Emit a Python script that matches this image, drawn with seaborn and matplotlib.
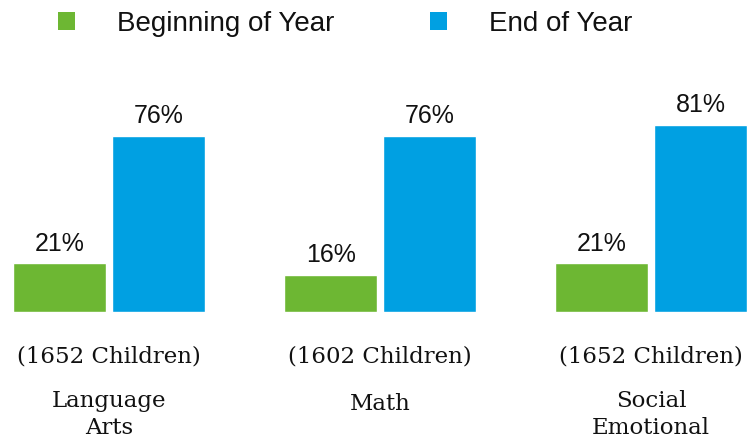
import pandas as pd
import matplotlib
matplotlib.use("Agg")
from matplotlib import pyplot as plt
from matplotlib.patches import Patch
import seaborn as sns

# data
subjects = ['Language\nArts', 'Math', 'Social\nEmotional']
children = [1652, 1602, 1652]
periods = ['Beginning of Year', 'End of Year']
beginning = [21, 16, 21]
end = [76, 76, 81]

colors = {
    'Beginning of Year': '#6db733',  # green
    'End of Year': '#00a0e2',        # blue
}

df = pd.DataFrame({
    'subject': subjects * 2,
    'period': [periods[0]] * 3 + [periods[1]] * 3,
    'pct': beginning + end,
})

sns.set_style('white')
plt.rcParams['font.family'] = ['Liberation Sans', 'DejaVu Sans']
plt.rcParams['text.color'] = '#111111'

fig = plt.figure(figsize=(7.5, 4.38), dpi=100)
ax = fig.add_axes([0, 126.3 / 438, 1, 311.7 / 438])

sns.barplot(data=df, x='subject', y='pct', hue='period', order=subjects,
            hue_order=periods, palette=colors, width=0.728, gap=0.058,
            saturation=1, legend=False, ax=ax)

ax.set_xlim(-0.402, 2.365)
ax.set_ylim(0, 134.9)
ax.axis('off')

for cont in ax.containers:
    ax.bar_label(cont, fmt='%g%%', padding=5.5, fontsize=18, color='#111111')

# sample size and subject names under each group
for i, subj in enumerate(subjects):
    ax.annotate(f'({children[i]} Children)', xy=(i, 0), xytext=(0, -45),
                textcoords='offset pixels', ha='center', va='center',
                fontsize=16.5, family='DejaVu Serif', color='#111111')
    ax.annotate(subj, xy=(i, 0), xytext=(0, -103 if '\n' in subj else -92),
                textcoords='offset pixels', ha='center', va='center',
                fontsize=16.5, family='DejaVu Serif', color='#111111',
                linespacing=1.3, multialignment='center')

handles = [Patch(facecolor=colors[p], edgecolor='none', label=p) for p in periods]
ax.legend(handles=handles, loc='upper left', bbox_to_anchor=(58 / 750, 1 - 11 / 438),
          bbox_transform=fig.transFigure, ncol=2, frameon=False, borderpad=0,
          borderaxespad=0, handlelength=0.62, handleheight=0.62,
          handletextpad=1.51, columnspacing=3.42, fontsize=20,
          labelcolor='#111111')

plt.savefig('out.png', dpi=100)
